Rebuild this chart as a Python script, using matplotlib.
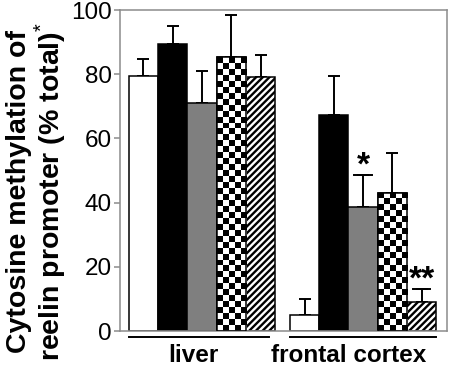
import matplotlib
matplotlib.use("Agg")
import matplotlib.pyplot as plt
import matplotlib.transforms as mtransforms
import numpy as np

plt.rcParams['font.family'] = ['Liberation Sans', 'DejaVu Sans']
plt.rcParams['mathtext.fontset'] = 'custom'
plt.rcParams['mathtext.rm'] = 'Liberation Sans'
plt.rcParams['hatch.linewidth'] = 1.7

groups = ['liver', 'frontal cortex']
# five treatment bars per tissue: white, black, gray, checker, hatched
liver_vals = [79.5, 89.5, 71.0, 85.3, 79.0]
liver_err = [5.3, 5.6, 10.0, 13.2, 7.0]
cortex_vals = [5.0, 67.3, 38.7, 43.0, 9.0]
cortex_err = [5.0, 12.0, 10.0, 12.5, 4.2]
signif = {2: '*', 4: '**'}   # frontal cortex bars with stars

styles = [
    dict(facecolor='white'),
    dict(facecolor='black'),
    dict(facecolor='#7f7f7f'),
    dict(facecolor='white'),           # checker drawn on top
    dict(facecolor='white', hatch='/////'),
]

fig = plt.figure(figsize=(4.53, 3.72), dpi=100)
ax = fig.add_axes([0.265, 0.110, 0.722, 0.863])

width = 1.0
starts = [0.0, 5.5]
label_shift = [-0.3, -0.5]
all_vals = [liver_vals, cortex_vals]
all_err = [liver_err, cortex_err]
trans = mtransforms.blended_transform_factory(ax.transData, ax.transAxes)

for g, (vals, errs) in enumerate(zip(all_vals, all_err)):
    x = starts[g] + np.arange(len(vals)) * width
    for i in range(len(vals)):
        bar = ax.bar(x[i], vals[i], width, edgecolor='black', linewidth=1.1,
                     zorder=2, **styles[i])[0]
        ax.errorbar(x[i], vals[i], yerr=[[0], [errs[i]]], fmt='none',
                    ecolor='black', elinewidth=1.4, capsize=4.3,
                    capthick=1.4, zorder=1)
        if i == 3:
            # checkerboard fill, clipped to the bar
            h = bar.get_height()
            ny = max(1, int(round(h / 1.87)))
            board = (np.add.outer(np.arange(ny), np.arange(5)) % 2).astype(float)
            im = ax.imshow(board, cmap='gray', interpolation='nearest',
                           extent=[bar.get_x(), bar.get_x() + bar.get_width(),
                                   0, h],
                           aspect='auto', zorder=2.5, origin='upper')
            im.set_clip_path(bar)
            ax.bar(x[i], vals[i], width, facecolor='none', edgecolor='black',
                   linewidth=1.1, zorder=3)
        if g == 1 and i in signif:
            top = vals[i] + errs[i]
            ax.plot([x[i] - 0.3, x[i] + 0.3], [top, top], color='black',
                    lw=1.4, zorder=3)
            ax.annotate(signif[i], (x[i], top), xytext=(0, -5),
                        textcoords='offset points', ha='center', va='bottom',
                        fontsize=24, fontweight='bold')

    # group underline and label below the axis
    ax.plot([x[0] - width / 2, x[-1] + width / 2 - (0.2 if g == 0 else 0)],
            [-0.019, -0.019], color='black', lw=1.4, transform=trans,
            clip_on=False)
    ax.text((x[0] + x[-1]) / 2 + label_shift[g], -0.075, groups[g],
            transform=trans, ha='center', va='center', fontsize=17.5,
            fontweight='bold')

ax.set_xlim(-0.8, 10.37)
ax.set_ylim(0, 100)
ax.set_yticks([0, 20, 40, 60, 80, 100])
ax.set_xticks([])
ax.tick_params(axis='y', direction='out', length=4, width=1.1,
               color='#8c8c8c', labelsize=17.5, pad=2)
for side in ['left', 'right', 'top', 'bottom']:
    ax.spines[side].set_color('#8c8c8c')
    ax.spines[side].set_linewidth(1.1)

ax.set_ylabel('Cytosine methylation of\nreelin promoter (% total)$^{*}$',
              fontsize=20.5, fontweight='bold', linespacing=1.0, va='center')
ax.yaxis.set_label_coords(-0.255, 0.436)

fig.savefig('out.png', dpi=100)
